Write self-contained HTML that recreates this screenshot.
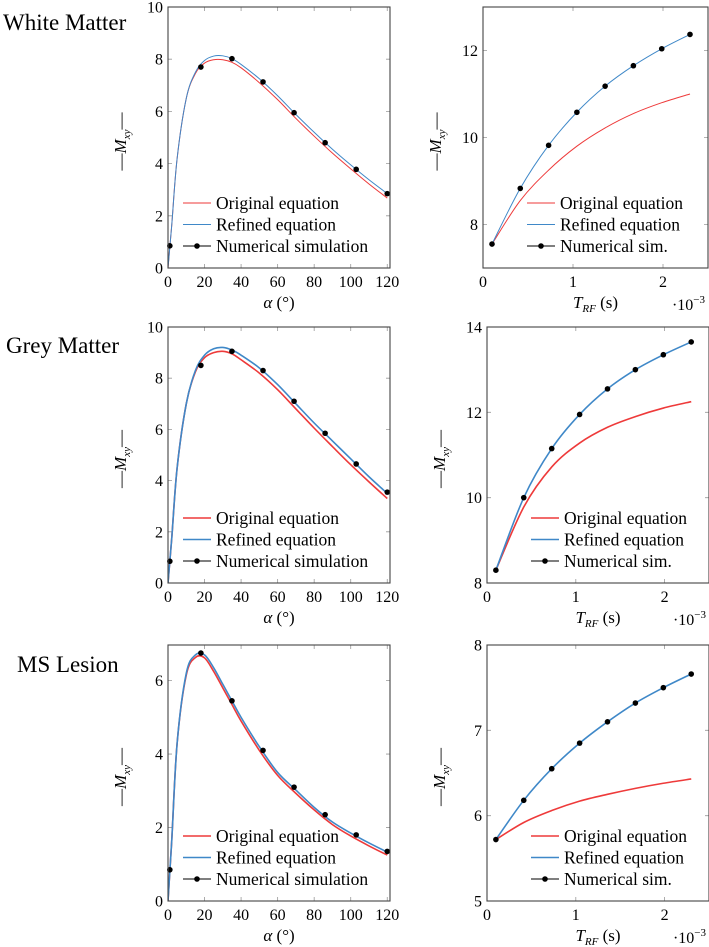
<!DOCTYPE html>
<html><head><meta charset="utf-8"><style>
html,body{margin:0;padding:0;background:#fff;font-family:"Liberation Serif",serif;}
svg{display:block;}
text,tspan{font-family:"Liberation Serif",serif !important;}
</style></head><body>
<svg id="fig" width="709" height="947" viewBox="0 0 709 947" xmlns="http://www.w3.org/2000/svg" font-family="Liberation Serif, serif">
<text x="3" y="30" font-size="23">White Matter</text>
<text x="6" y="353" font-size="23">Grey Matter</text>
<text x="17" y="672" font-size="23">MS Lesion</text>
</svg>
<script>
// ---- data ----
const alphaGrid = [0,2,5,10,15,20,25,30,35,40,50,60,70,80,90,100,110,120];
const alphaSim = [1,18,35,52,69,86,103,120];
const trfSim = [0.1,0.414,0.729,1.043,1.357,1.671,1.986,2.3];

const wmOrigAlpha = [0,1.6,4.2,6.5,7.45,7.85,7.98,7.98,7.88,7.67,7.1,6.45,5.73,5.05,4.4,3.8,3.22,2.68];
const wmRefAlpha  = [0,1.6,4.2,6.5,7.5,7.95,8.12,8.13,8.02,7.8,7.25,6.6,5.88,5.2,4.55,3.95,3.38,2.85];
const wmSimAlpha  = [0.85,7.7,8.02,7.13,5.95,4.8,3.78,2.85];
const wmOrigTrf = [7.55,8.55,9.25,9.8,10.22,10.55,10.8,11.0];
const wmRefTrf  = [7.55,8.83,9.82,10.58,11.18,11.65,12.04,12.37];
const wmSimTrf  = [7.55,8.83,9.82,10.58,11.18,11.65,12.04,12.37];

const gmOrigAlpha = [0,1.7,4.5,7.0,8.25,8.8,9.0,9.05,8.95,8.72,8.2,7.55,6.8,6.05,5.33,4.62,3.95,3.3];
const gmRefAlpha  = [0,1.7,4.5,7.0,8.3,8.9,9.15,9.2,9.1,8.9,8.4,7.75,7.0,6.25,5.55,4.85,4.15,3.5];
const gmSimAlpha  = [0.85,8.5,9.05,8.3,7.1,5.85,4.65,3.55];
const gmOrigTrf = [8.3,9.78,10.72,11.28,11.65,11.9,12.1,12.25];
const gmRefTrf  = [8.3,10.0,11.15,11.95,12.55,13.0,13.35,13.65];
const gmSimTrf  = [8.3,10.0,11.15,11.95,12.55,13.0,13.35,13.65];

const msOrigAlpha = [0,1.6,4.3,6.15,6.63,6.62,6.25,5.8,5.35,4.9,4.1,3.42,2.93,2.48,2.08,1.77,1.5,1.25];
const msRefAlpha  = [0,1.6,4.3,6.2,6.7,6.7,6.35,5.9,5.45,5.0,4.2,3.5,3.02,2.55,2.15,1.85,1.58,1.33];
const msSimAlpha  = [0.85,6.75,5.45,4.1,3.1,2.35,1.8,1.35];
const msOrigTrf = [5.72,5.92,6.06,6.17,6.25,6.32,6.38,6.43];
const msRefTrf  = [5.72,6.18,6.55,6.85,7.1,7.32,7.5,7.66];
const msSimTrf  = [5.72,6.18,6.55,6.85,7.1,7.32,7.5,7.66];

const alphaTicks = [0,20,40,60,80,100,120];
const trfTicks = [0,1,2];
const wmAlphaYTicks = [0,2,4,6,8,10];
const wmTrfYTicks = [8,10,12];
const gmAlphaYTicks = [0,2,4,6,8,10];
const gmTrfYTicks = [8,10,12,14];
const msAlphaYTicks = [0,2,4,6];
const msTrfYTicks = [5,6,7,8];

const RED = '#ee3a3a', BLUE = '#3f88c8';
const NS = 'http://www.w3.org/2000/svg';
const svg = document.getElementById('fig');

function mk(tag, attrs, parent){
  const e = document.createElementNS(NS, tag);
  for (const k in attrs) e.setAttribute(k, attrs[k]);
  if (tag === 'text') e.setAttribute('style', 'font-family:"Liberation Serif",serif');
  (parent||svg).appendChild(e);
  return e;
}
function smoothPath(pts){
  let d = 'M' + pts[0][0].toFixed(2) + ',' + pts[0][1].toFixed(2);
  for (let i=0;i<pts.length-1;i++){
    const p0 = pts[i-1]||pts[i], p1 = pts[i], p2 = pts[i+1], p3 = pts[i+2]||p2;
    const c1 = [p1[0]+(p2[0]-p0[0])/6, p1[1]+(p2[1]-p0[1])/6];
    const c2 = [p2[0]-(p3[0]-p1[0])/6, p2[1]-(p3[1]-p1[1])/6];
    d += 'C'+c1[0].toFixed(2)+','+c1[1].toFixed(2)+' '+c2[0].toFixed(2)+','+c2[1].toFixed(2)+' '+p2[0].toFixed(2)+','+p2[1].toFixed(2);
  }
  return d;
}

function panel(cfg){
  const g = mk('g', {});
  
  
  const sx = v => cfg.x0 + (v - cfg.xmin)/(cfg.xmax - cfg.xmin)*(cfg.x1 - cfg.x0);
  const sy = v => cfg.y1 - (v - cfg.ymin)/(cfg.ymax - cfg.ymin)*(cfg.y1 - cfg.y0);
  const lw = cfg.lw;
  cfg.xticks.forEach(t => {
    const x = sx(t);
    const tk = mk('path', {d:'M'+x+','+cfg.y1+'v-4M'+x+','+cfg.y0+'v4', stroke:'#999', 'stroke-width':0.8}, g);
    
    
    const lb = mk('text', {x:x, y:cfg.y1+19, 'font-size':16, 'text-anchor':'middle'}, g);
    lb.textContent = t;
    
    
  });
  cfg.yticks.forEach(t => {
    const y = sy(t);
    const tk = mk('path', {d:'M'+cfg.x0+','+y+'h4M'+cfg.x1+','+y+'h-4', stroke:'#999', 'stroke-width':0.8}, g);
    
    
    const lb = mk('text', {x:cfg.x0-5, y:y+5.5, 'font-size':16, 'text-anchor':'end'}, g);
    lb.textContent = t;
    
    
  });
  const clip = mk('clipPath', {id:cfg.name+'-clip'}, g);
  mk('rect', {x:cfg.x0, y:cfg.y0, width:cfg.x1-cfg.x0, height:cfg.y1-cfg.y0}, clip);
  const orig = mk('path', {d:smoothPath(cfg.xs.map((v,i)=>[sx(v), sy(cfg.orig[i])])), fill:'none', stroke:RED, 'stroke-width':lw, 'clip-path':'url(#'+cfg.name+'-clip)'}, g);
  
  
  const ref = mk('path', {d:smoothPath(cfg.xs.map((v,i)=>[sx(v), sy(cfg.ref[i])])), fill:'none', stroke:BLUE, 'stroke-width':lw, 'clip-path':'url(#'+cfg.name+'-clip)'}, g);
  
  
  cfg.simX.forEach((v,i) => {
    const c = mk('circle', {cx:sx(v), cy:sy(cfg.sim[i]), r:2.8, fill:'#000'}, g);
    
    
  });
  const fr = mk('rect', {x:cfg.x0, y:cfg.y0, width:cfg.x1-cfg.x0, height:cfg.y1-cfg.y0, fill:'none', stroke:'#444', 'stroke-width':1.1}, g);
  
  
  const lx = cfg.x0 + cfg.legOff;
  const items = [['Original equation', RED, false], ['Refined equation', BLUE, false], [cfg.simLabel, '#333', true]];
  items.forEach((it, i) => {
    const y = cfg.y1 - 65 + i*21.5;
    const le = mk('g', {}, g);
    
    
    mk('line', {x1:lx, x2:lx+28, y1:y, y2:y, stroke:it[1], 'stroke-width':it[2]?1.2:lw}, le);
    if (it[2]) mk('circle', {cx:lx+14, cy:y, r:2.8, fill:'#000'}, le);
    const t = mk('text', {x:lx+33, y:y+6, 'font-size':17.5}, le);
    t.textContent = it[0];
  });
  const cy = (cfg.y0+cfg.y1)/2 + 4;
  const yl = mk('text', {x:0, y:0, 'font-size':17, 'text-anchor':'middle', transform:'translate('+(cfg.x0-cfg.ylabOff)+','+cy+') rotate(-90)'}, g);
  
  
  yl.innerHTML = '—<tspan font-style="italic">M</tspan><tspan font-style="italic" font-size="11" dy="4">xy</tspan><tspan dy="-4">—</tspan>';
  const xl = mk('text', {x:(cfg.x0+cfg.x1)/2, y:cfg.y1+40, 'font-size':17, 'text-anchor':'middle'}, g);
  
  
  if (cfg.kind === 'alpha') {
    xl.innerHTML = '<tspan font-style="italic">α</tspan> (°)';
  } else {
    xl.innerHTML = '<tspan font-style="italic">T</tspan><tspan font-style="italic" font-size="11" dy="4">RF</tspan><tspan dy="-4"> (s)</tspan>';
    const sc = mk('text', {x:cfg.x1-3, y:cfg.y1+42, 'font-size':16, 'text-anchor':'end'}, g);
    
    
    sc.innerHTML = '·10<tspan font-size="11" dy="-7">−3</tspan>';
  }
}

const rows = [
  {key:'wm', y0:7, y1:268, lw:1, rx0:483, rx1:708,
   a:[wmOrigAlpha, wmRefAlpha, wmSimAlpha, wmAlphaYTicks, 0, 10],
   t:[wmOrigTrf, wmRefTrf, wmSimTrf, wmTrfYTicks, 7, 13]},
  {key:'gm', y0:327, y1:583, lw:1.6, rx0:487, rx1:709,
   a:[gmOrigAlpha, gmRefAlpha, gmSimAlpha, gmAlphaYTicks, 0, 10],
   t:[gmOrigTrf, gmRefTrf, gmSimTrf, gmTrfYTicks, 8, 14]},
  {key:'ms', y0:645, y1:901, lw:1.6, rx0:487, rx1:709,
   a:[msOrigAlpha, msRefAlpha, msSimAlpha, msAlphaYTicks, 0, 6.97],
   t:[msOrigTrf, msRefTrf, msSimTrf, msTrfYTicks, 5, 8]}
];
rows.forEach(r => {
  panel({name:r.key+'-alpha-chart', kind:'alpha', x0:168, x1:390, y0:r.y0, y1:r.y1, xmin:0, xmax:121.5,
    ymin:r.a[4], ymax:r.a[5], xticks:alphaTicks, yticks:r.a[3], xs:alphaGrid, orig:r.a[0], ref:r.a[1],
    simX:alphaSim, sim:r.a[2], lw:r.lw, legOff:15, simLabel:'Numerical simulation', ylabOff:42});
  panel({name:r.key+'-trf-chart', kind:'trf', x0:r.rx0, x1:r.rx1, y0:r.y0, y1:r.y1, xmin:0, xmax:2.5,
    ymin:r.t[4], ymax:r.t[5], xticks:trfTicks, yticks:r.t[3], xs:trfSim, orig:r.t[0], ref:r.t[1],
    simX:trfSim, sim:r.t[2], lw:r.lw, legOff:44, simLabel:'Numerical sim.', ylabOff:42});
});
</script>
</body></html>
